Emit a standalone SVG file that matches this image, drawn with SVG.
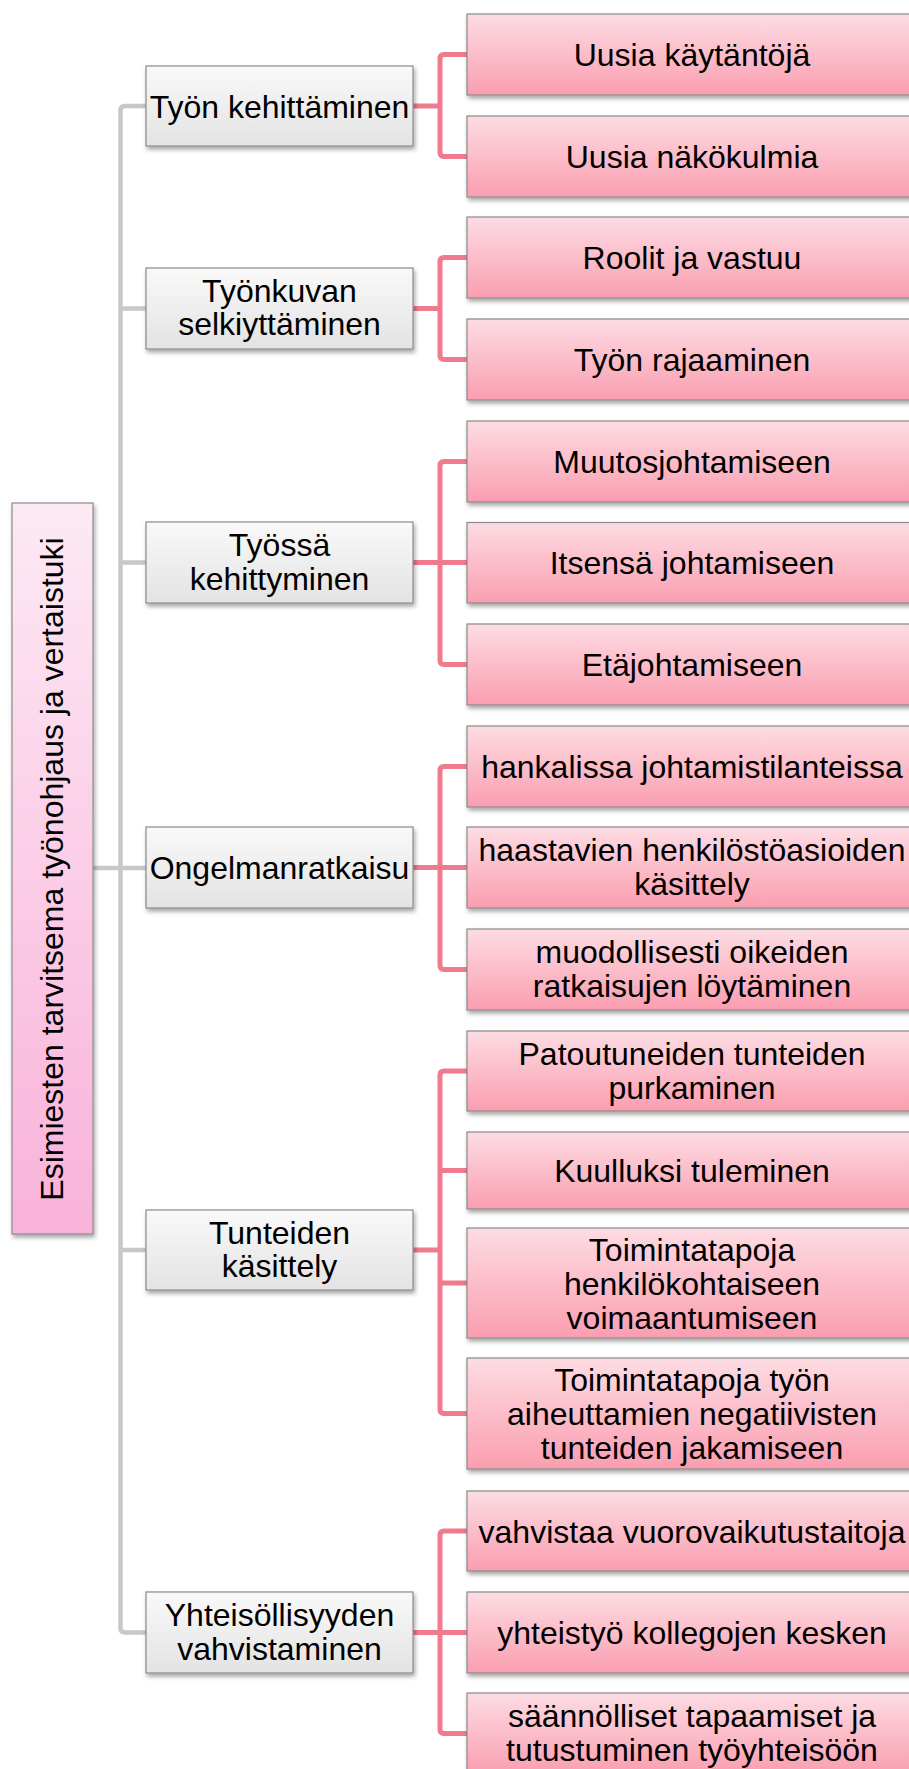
<svg xmlns="http://www.w3.org/2000/svg" width="909" height="1769" viewBox="0 0 909 1769">
  <defs>
    <linearGradient id="gLeaf" x1="0" y1="0" x2="0" y2="1">
      <stop offset="0" stop-color="#FDDCE3"/>
      <stop offset="1" stop-color="#FA9EB0"/>
    </linearGradient>
    <linearGradient id="gMid" x1="0" y1="0" x2="0" y2="1">
      <stop offset="0" stop-color="#F9F9F9"/>
      <stop offset="1" stop-color="#E3E3E3"/>
    </linearGradient>
    <linearGradient id="gRoot" x1="0" y1="0" x2="0" y2="1">
      <stop offset="0" stop-color="#FDE9F4"/>
      <stop offset="1" stop-color="#F9B2D9"/>
    </linearGradient>
    <filter id="shadow" x="-10%" y="-10%" width="130%" height="140%">
      <feDropShadow dx="1.5" dy="3" stdDeviation="2" flood-color="#000" flood-opacity="0.35"/>
    </filter>
  </defs>
  <style>
    text { font-family: "Liberation Sans", Arial, sans-serif; font-size: 32px; fill: #000; text-anchor: middle; }
    .leaf rect { fill: url(#gLeaf); stroke: #8A8A8A; stroke-width: 1.2; filter: url(#shadow); }
    .mid rect { fill: url(#gMid); stroke: #8A8A8A; stroke-width: 1.2; filter: url(#shadow); }
    .root rect { fill: url(#gRoot); stroke: #8A8A8A; stroke-width: 1.2; filter: url(#shadow); }
    .gray { fill: none; stroke: #C8C8C8; stroke-width: 4.5; }
    .pink { fill: none; stroke: #F07A8E; stroke-width: 5; }
  </style>

  <!-- connectors -->
  <g id="connectors">
    <!-- root trunk -->
    <path class="gray" d="M146 106 H125 Q120.5 106 120.5 110.5 V1628 Q120.5 1632.5 125 1632.5 H146"/>
    <path class="gray" d="M120.5 308.5 H146 M120.5 562.5 H146 M93 868 H146 M120.5 1250 H146"/>
    <!-- Työn kehittäminen -->
    <path class="pink" d="M413 106 H440 M467 54.5 H444 Q440 54.5 440 58.5 V152.5 Q440 156.5 444 156.5 H467"/>
    <!-- Työnkuvan selkiyttäminen -->
    <path class="pink" d="M413 308.5 H440 M467 257.5 H444 Q440 257.5 440 261.5 V355.5 Q440 359.5 444 359.5 H467"/>
    <!-- Työssä kehittyminen -->
    <path class="pink" d="M413 562.5 H467 M467 461.5 H444 Q440 461.5 440 465.5 V660.5 Q440 664.5 444 664.5 H467"/>
    <!-- Ongelmanratkaisu -->
    <path class="pink" d="M413 867.5 H467 M467 766.5 H444 Q440 766.5 440 770.5 V965.5 Q440 969.5 444 969.5 H467"/>
    <!-- Tunteiden käsittely -->
    <path class="pink" d="M413 1250 H440 M440 1170.5 H467 M440 1283 H467 M467 1071 H444 Q440 1071 440 1075 V1409.5 Q440 1413.5 444 1413.5 H467"/>
    <!-- Yhteisöllisyyden vahvistaminen -->
    <path class="pink" d="M413 1632.5 H467 M467 1531 H444 Q440 1531 440 1535 V1729.5 Q440 1733.5 444 1733.5 H467"/>
  </g>

  <!-- root -->
  <g id="root" class="root">
    <rect x="12" y="503" width="81" height="731"/>
    <text transform="translate(63,869) rotate(-90)">Esimiesten tarvitsema työnohjaus ja vertaistuki</text>
  </g>

  <!-- second level -->
  <g id="n-tyon-kehittaminen" class="mid">
    <rect x="146" y="66" width="267" height="80"/>
    <text x="279.5" y="117.5">Työn kehittäminen</text>
  </g>
  <g id="n-tyonkuvan" class="mid">
    <rect x="146" y="268" width="267" height="81"/>
    <text x="279.5" y="301.5">Työnkuvan</text>
    <text x="279.5" y="335">selkiyttäminen</text>
  </g>
  <g id="n-tyossa" class="mid">
    <rect x="146" y="522" width="267" height="81"/>
    <text x="279.5" y="556">Työssä</text>
    <text x="279.5" y="589.5">kehittyminen</text>
  </g>
  <g id="n-ongelman" class="mid">
    <rect x="146" y="827" width="267" height="81"/>
    <text x="279.5" y="879">Ongelmanratkaisu</text>
  </g>
  <g id="n-tunteiden" class="mid">
    <rect x="146" y="1210" width="267" height="80"/>
    <text x="279.5" y="1243.5">Tunteiden</text>
    <text x="279.5" y="1277">käsittely</text>
  </g>
  <g id="n-yhteisollisyyden" class="mid">
    <rect x="146" y="1592" width="267" height="81"/>
    <text x="279.5" y="1626">Yhteisöllisyyden</text>
    <text x="279.5" y="1659.5">vahvistaminen</text>
  </g>

  <!-- leaves -->
  <g id="l1" class="leaf"><rect x="467" y="14" width="450" height="81"/><text x="692" y="66">Uusia käytäntöjä</text></g>
  <g id="l2" class="leaf"><rect x="467" y="116" width="450" height="81"/><text x="692" y="168">Uusia näkökulmia</text></g>
  <g id="l3" class="leaf"><rect x="467" y="217" width="450" height="81"/><text x="692" y="269">Roolit ja vastuu</text></g>
  <g id="l4" class="leaf"><rect x="467" y="319" width="450" height="81"/><text x="692" y="371">Työn rajaaminen</text></g>
  <g id="l5" class="leaf"><rect x="467" y="421" width="450" height="81"/><text x="692" y="473">Muutosjohtamiseen</text></g>
  <g id="l6" class="leaf"><rect x="467" y="522.5" width="450" height="80.5"/><text x="692" y="574">Itsensä johtamiseen</text></g>
  <g id="l7" class="leaf"><rect x="467" y="624" width="450" height="81"/><text x="692" y="676">Etäjohtamiseen</text></g>
  <g id="l8" class="leaf"><rect x="467" y="726" width="450" height="81"/><text x="692" y="778">hankalissa johtamistilanteissa</text></g>
  <g id="l9" class="leaf"><rect x="467" y="827" width="450" height="81"/><text x="692" y="861">haastavien henkilöstöasioiden</text><text x="692" y="895">käsittely</text></g>
  <g id="l10" class="leaf"><rect x="467" y="929" width="450" height="81"/><text x="692" y="963">muodollisesti oikeiden</text><text x="692" y="997">ratkaisujen löytäminen</text></g>
  <g id="l11" class="leaf"><rect x="467" y="1031" width="450" height="80"/><text x="692" y="1065">Patoutuneiden tunteiden</text><text x="692" y="1099">purkaminen</text></g>
  <g id="l12" class="leaf"><rect x="467" y="1132" width="450" height="77"/><text x="692" y="1182">Kuulluksi tuleminen</text></g>
  <g id="l13" class="leaf"><rect x="467" y="1228" width="450" height="110"/><text x="692" y="1260.5">Toimintatapoja</text><text x="692" y="1294.5">henkilökohtaiseen</text><text x="692" y="1328.5">voimaantumiseen</text></g>
  <g id="l14" class="leaf"><rect x="467" y="1358" width="450" height="111"/><text x="692" y="1391">Toimintatapoja työn</text><text x="692" y="1425">aiheuttamien negatiivisten</text><text x="692" y="1459">tunteiden jakamiseen</text></g>
  <g id="l15" class="leaf"><rect x="467" y="1491" width="450" height="80"/><text x="692" y="1542.5">vahvistaa vuorovaikutustaitoja</text></g>
  <g id="l16" class="leaf"><rect x="467" y="1592" width="450" height="81"/><text x="692" y="1644">yhteistyö kollegojen kesken</text></g>
  <g id="l17" class="leaf"><rect x="467" y="1693" width="450" height="81"/><text x="692" y="1727">säännölliset tapaamiset ja</text><text x="692" y="1761">tutustuminen työyhteisöön</text></g>
</svg>
